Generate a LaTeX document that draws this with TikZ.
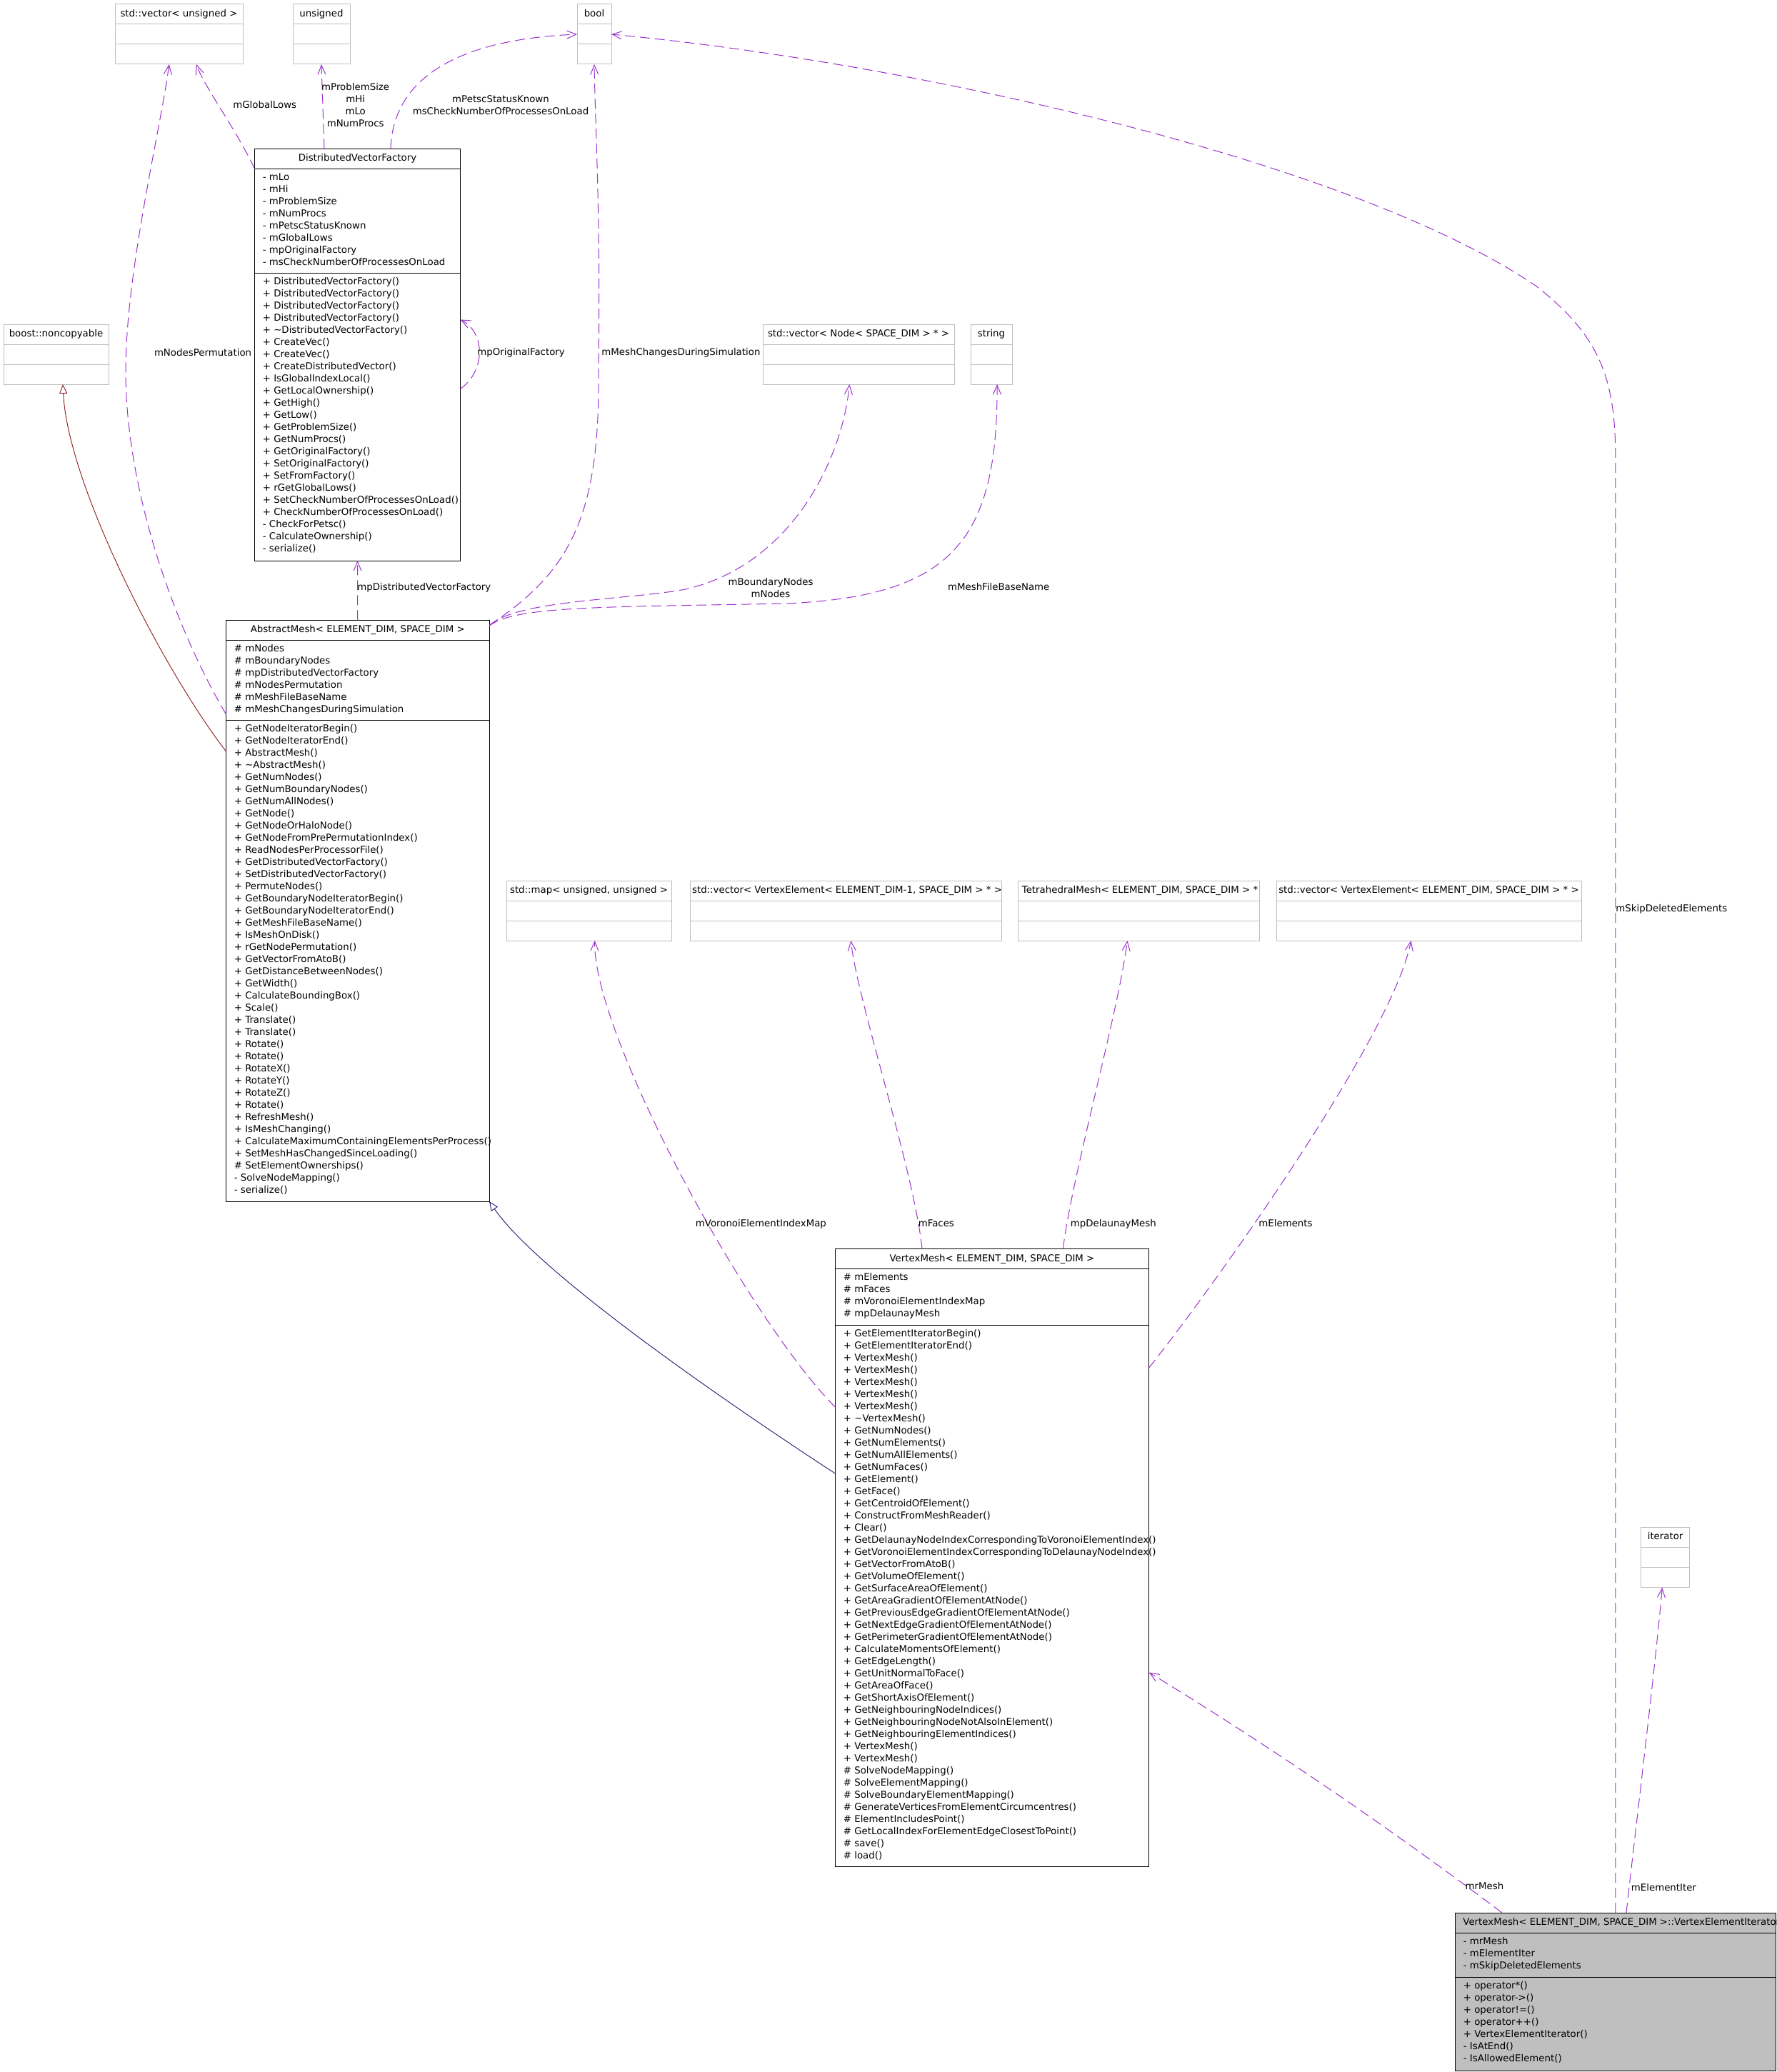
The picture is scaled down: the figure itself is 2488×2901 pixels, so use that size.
\documentclass[tikz,border=0pt]{standalone}
\usepackage{fontspec}
\setmainfont{DejaVu Sans}
\usetikzlibrary{arrows.meta}
\definecolor{edgepurple}{HTML}{9A32CD}
\definecolor{inhblue}{HTML}{191970}
\definecolor{inhred}{HTML}{8B1A1A}
\definecolor{boxgray}{HTML}{BFBFBF}
\newcommand\fs{\fontsize{6.67pt}{8.5pt}\selectfont}
\newcommand\mystrut{\vrule height6pt depth2.5pt width0pt}
\newcommand\lblock[1]{\vbox{\offinterlineskip\halign{\mystrut##\hfil\cr#1\crcr}}}
\newcommand\cblock[1]{\vbox{\offinterlineskip\halign{\hfil\mystrut##\hfil\cr#1\crcr}}}
\newcommand\umlclass[6]{%
  \node[#6, minimum width={(#4-#2)*0.5pt}, minimum height={(#5-#3)*0.5pt}] (#1) at ({(#2+#4)/2},{(#3+#5)/2}) {};}
\newcommand\divider[4]{\draw[draw=#4, line width=0.5pt] (#1,#3) -- (#2,#3);}
\tikzset{
  cbox/.style={draw=black, line width=0.5pt, fill=white, inner sep=0pt, outer sep=0pt},
  gbox/.style={draw=boxgray, line width=0.5pt, fill=white, inner sep=0pt, outer sep=0pt},
  ibox/.style={draw=black, line width=0.5pt, fill=boxgray, inner sep=0pt, outer sep=0pt},
  usage/.style={draw=edgepurple, line width=0.5pt, dash pattern=on 7pt off 3.5pt,
    -{Straight Barb[length=6.5pt,width=5.5pt]}},
  inh/.style={line width=0.45pt, -{Triangle[open,length=6.5pt,width=5.5pt]}},
  lbl/.style={font=\fs, inner sep=0pt, text=black},
  txt/.style={font=\fs, inner sep=0pt, anchor=north west, text=black},
}
\begin{document}
\begin{tikzpicture}[x=0.5pt,y=-0.5pt]
\useasboundingbox (0,0) rectangle (2488,2901);
\fill[white] (0,0) rectangle (2488,2901);
\clip (0,0) rectangle (2488,2901);

% ---------- simple grey classes ----------
\umlclass{cvu}{161}{6}{340}{90}{gbox}
\divider{161}{340}{34}{boxgray}\divider{161}{340}{62}{boxgray}
\node[lbl] at (250.5,20) {\cblock{std::vector< unsigned >}};

\umlclass{uns}{410}{6}{490}{90}{gbox}
\divider{410}{490}{34}{boxgray}\divider{410}{490}{62}{boxgray}
\node[lbl] at (450,20) {\cblock{unsigned}};

\umlclass{bool}{808}{6}{856}{90}{gbox}
\divider{808}{856}{34}{boxgray}\divider{808}{856}{62}{boxgray}
\node[lbl] at (832,20) {\cblock{bool}};

\umlclass{nonc}{5}{454}{152}{538}{gbox}
\divider{5}{152}{482}{boxgray}\divider{5}{152}{510}{boxgray}
\node[lbl] at (78.5,468) {\cblock{boost::noncopyable}};

\umlclass{vnode}{1068}{454}{1336}{538}{gbox}
\divider{1068}{1336}{482}{boxgray}\divider{1068}{1336}{510}{boxgray}
\node[lbl] at (1202,468) {\cblock{std::vector< Node< SPACE\_DIM > * >}};

\umlclass{str}{1359}{454}{1417}{538}{gbox}
\divider{1359}{1417}{482}{boxgray}\divider{1359}{1417}{510}{boxgray}
\node[lbl] at (1388,468) {\cblock{string}};

\umlclass{map}{709}{1233}{940}{1317}{gbox}
\divider{709}{940}{1261}{boxgray}\divider{709}{940}{1289}{boxgray}
\node[lbl] at (824.5,1247) {\cblock{std::map< unsigned, unsigned >}};

\umlclass{vecm}{966}{1233}{1402}{1317}{gbox}
\divider{966}{1402}{1261}{boxgray}\divider{966}{1402}{1289}{boxgray}
\node[lbl] at (1186,1247) {\cblock{std::vector< VertexElement< ELEMENT\_DIM-1, SPACE\_DIM > * >}};

\umlclass{tet}{1425}{1233}{1763}{1317}{gbox}
\divider{1425}{1763}{1261}{boxgray}\divider{1425}{1763}{1289}{boxgray}
\node[lbl] at (1596,1247) {\cblock{TetrahedralMesh< ELEMENT\_DIM, SPACE\_DIM > *}};

\umlclass{vec}{1787}{1233}{2214}{1317}{gbox}
\divider{1787}{2214}{1261}{boxgray}\divider{1787}{2214}{1289}{boxgray}
\node[lbl] at (2000.5,1247) {\cblock{std::vector< VertexElement< ELEMENT\_DIM, SPACE\_DIM > * >}};

\umlclass{iter}{2297.5}{2138.3}{2365.8}{2222.6}{gbox}
\divider{2297.5}{2365.8}{2166.3}{boxgray}\divider{2297.5}{2365.8}{2194.5}{boxgray}
\node[lbl] at (2331.6,2152.3) {\cblock{iterator}};

% ---------- DistributedVectorFactory ----------
\umlclass{dvf}{356.5}{208.3}{644.5}{785}{cbox}
\divider{356.5}{644.5}{236.3}{black}\divider{356.5}{644.5}{382.7}{black}
\node[lbl] at (500.5,222.3) {\cblock{DistributedVectorFactory}};
\node[txt] at (367.5,240.1) {\lblock{- mLo\cr - mHi\cr - mProblemSize\cr - mNumProcs\cr - mPetscStatusKnown\cr - mGlobalLows\cr - mpOriginalFactory\cr - msCheckNumberOfProcessesOnLoad}};
\node[txt] at (367.5,386.5) {\lblock{+ DistributedVectorFactory()\cr + DistributedVectorFactory()\cr + DistributedVectorFactory()\cr + DistributedVectorFactory()\cr + \textasciitilde DistributedVectorFactory()\cr + CreateVec()\cr + CreateVec()\cr + CreateDistributedVector()\cr + IsGlobalIndexLocal()\cr + GetLocalOwnership()\cr + GetHigh()\cr + GetLow()\cr + GetProblemSize()\cr + GetNumProcs()\cr + GetOriginalFactory()\cr + SetOriginalFactory()\cr + SetFromFactory()\cr + rGetGlobalLows()\cr + SetCheckNumberOfProcessesOnLoad()\cr + CheckNumberOfProcessesOnLoad()\cr - CheckForPetsc()\cr - CalculateOwnership()\cr - serialize()}};

% ---------- AbstractMesh ----------
\umlclass{am}{316.5}{868.3}{685}{1682.1}{cbox}
\divider{316.5}{685}{896.3}{black}\divider{316.5}{685}{1008.7}{black}
\node[lbl] at (500.75,882.3) {\cblock{AbstractMesh< ELEMENT\_DIM, SPACE\_DIM >}};
\node[txt] at (327.5,900.1) {\lblock{\# mNodes\cr \# mBoundaryNodes\cr \# mpDistributedVectorFactory\cr \# mNodesPermutation\cr \# mMeshFileBaseName\cr \# mMeshChangesDuringSimulation}};
\node[txt] at (327.5,1012.5) {\lblock{+ GetNodeIteratorBegin()\cr + GetNodeIteratorEnd()\cr + AbstractMesh()\cr + \textasciitilde AbstractMesh()\cr + GetNumNodes()\cr + GetNumBoundaryNodes()\cr + GetNumAllNodes()\cr + GetNode()\cr + GetNodeOrHaloNode()\cr + GetNodeFromPrePermutationIndex()\cr + ReadNodesPerProcessorFile()\cr + GetDistributedVectorFactory()\cr + SetDistributedVectorFactory()\cr + PermuteNodes()\cr + GetBoundaryNodeIteratorBegin()\cr + GetBoundaryNodeIteratorEnd()\cr + GetMeshFileBaseName()\cr + IsMeshOnDisk()\cr + rGetNodePermutation()\cr + GetVectorFromAtoB()\cr + GetDistanceBetweenNodes()\cr + GetWidth()\cr + CalculateBoundingBox()\cr + Scale()\cr + Translate()\cr + Translate()\cr + Rotate()\cr + Rotate()\cr + RotateX()\cr + RotateY()\cr + RotateZ()\cr + Rotate()\cr + RefreshMesh()\cr + IsMeshChanging()\cr + CalculateMaximumContainingElementsPerProcess()\cr + SetMeshHasChangedSinceLoading()\cr \# SetElementOwnerships()\cr - SolveNodeMapping()\cr - serialize()}};

% ---------- VertexMesh ----------
\umlclass{vm}{1169.3}{1748.6}{1608.7}{2613.4}{cbox}
\divider{1169.3}{1608.7}{1776.6}{black}\divider{1169.3}{1608.7}{1855}{black}
\node[lbl] at (1389,1762.6) {\cblock{VertexMesh< ELEMENT\_DIM, SPACE\_DIM >}};
\node[txt] at (1180.5,1780.4) {\lblock{\# mElements\cr \# mFaces\cr \# mVoronoiElementIndexMap\cr \# mpDelaunayMesh}};
\node[txt] at (1180.5,1858.8) {\lblock{+ GetElementIteratorBegin()\cr + GetElementIteratorEnd()\cr + VertexMesh()\cr + VertexMesh()\cr + VertexMesh()\cr + VertexMesh()\cr + VertexMesh()\cr + \textasciitilde VertexMesh()\cr + GetNumNodes()\cr + GetNumElements()\cr + GetNumAllElements()\cr + GetNumFaces()\cr + GetElement()\cr + GetFace()\cr + GetCentroidOfElement()\cr + ConstructFromMeshReader()\cr + Clear()\cr + GetDelaunayNodeIndexCorrespondingToVoronoiElementIndex()\cr + GetVoronoiElementIndexCorrespondingToDelaunayNodeIndex()\cr + GetVectorFromAtoB()\cr + GetVolumeOfElement()\cr + GetSurfaceAreaOfElement()\cr + GetAreaGradientOfElementAtNode()\cr + GetPreviousEdgeGradientOfElementAtNode()\cr + GetNextEdgeGradientOfElementAtNode()\cr + GetPerimeterGradientOfElementAtNode()\cr + CalculateMomentsOfElement()\cr + GetEdgeLength()\cr + GetUnitNormalToFace()\cr + GetAreaOfFace()\cr + GetShortAxisOfElement()\cr + GetNeighbouringNodeIndices()\cr + GetNeighbouringNodeNotAlsoInElement()\cr + GetNeighbouringElementIndices()\cr + VertexMesh()\cr + VertexMesh()\cr \# SolveNodeMapping()\cr \# SolveElementMapping()\cr \# SolveBoundaryElementMapping()\cr \# GenerateVerticesFromElementCircumcentres()\cr \# ElementIncludesPoint()\cr \# GetLocalIndexForElementEdgeClosestToPoint()\cr \# save()\cr \# load()}};

% ---------- VertexElementIterator ----------
\umlclass{vei}{2037.6}{2678}{2486}{2899.5}{ibox}
\divider{2037.6}{2486}{2706.5}{black}\divider{2037.6}{2486}{2768}{black}
\node[lbl, anchor=west] at (2048,2692.2) {\lblock{VertexMesh< ELEMENT\_DIM, SPACE\_DIM >::VertexElementIterator}};
\node[txt] at (2048.5,2710.3) {\lblock{- mrMesh\cr - mElementIter\cr - mSkipDeletedElements}};
\node[txt] at (2048.5,2771.8) {\lblock{+ operator*()\cr + operator->()\cr + operator!=()\cr + operator++()\cr + VertexElementIterator()\cr - IsAtEnd()\cr - IsAllowedElement()}};

% ---------- connectors ----------
\draw[usage] ([yshift=-14pt]dvf.north west) .. controls (330,180) and (285,120) .. ([xshift=12.25pt]cvu.south);
\node[lbl, anchor=west] at (326,147.7) {\lblock{mGlobalLows}};

\draw[usage] ([yshift=-65.85pt]am.north west) .. controls (240,870) and (176,680) .. (176,520) .. controls (176,380) and (225,180) .. ([xshift=-6.85pt]cvu.south);
\node[lbl, anchor=west] at (215.6,495) {\lblock{mNodesPermutation}};

\draw[inh, draw=inhred] ([yshift=-91.85pt]am.north west) .. controls (230,940) and (95,680) .. ([xshift=4.75pt]nonc.south);

\draw[usage] ([xshift=-23.25pt]dvf.north) -- (uns.south);
\node[lbl] at (497.7,148.2) {\cblock{mProblemSize\cr mHi\cr mLo\cr mNumProcs}};

\draw[usage] ([xshift=23.25pt]dvf.north) .. controls (550,110) and (640,55) .. (bool.west);
\node[lbl] at (701,148.3) {\cblock{mPetscStatusKnown\cr msCheckNumberOfProcessesOnLoad}};

\draw[usage] ([yshift=-3.5pt]am.north east) .. controls (800,800) and (840,720) .. (838,520) .. controls (841,300) and (834,200) .. (bool.south);
\node[lbl, anchor=west] at (842,494.3) {\lblock{mMeshChangesDuringSimulation}};

\draw[usage] ([yshift=-168pt]dvf.north east) .. controls (680,520) and (680,465) .. ([yshift=-119.6pt]dvf.north east);
\node[lbl, anchor=west] at (668,494.3) {\lblock{mpOriginalFactory}};

\draw[usage] (am.north) -- (dvf.south);
\node[lbl, anchor=west] at (500,823.3) {\lblock{mpDistributedVectorFactory}};

\draw[usage] ([yshift=-4pt]am.north east) .. controls (720,840) and (880,840) .. (960,825) .. controls (1110,790) and (1180,640) .. ([xshift=-6.35pt]vnode.south);
\node[lbl] at (1079,824.2) {\cblock{mBoundaryNodes\cr mNodes}};

\draw[usage] ([yshift=-4pt]am.north east) .. controls (720,848) and (850,850) .. (1100,845) .. controls (1330,835) and (1397,760) .. ([xshift=4pt]str.south);
\node[lbl, anchor=west] at (1326.7,823.3) {\lblock{mMeshFileBaseName}};

\draw[usage] (vei.north) -- (2261.8,640) .. controls (2261.8,530) and (2240,470) .. (2150,400) .. controls (1900,230) and (1300,90) .. (bool.east);
\node[lbl, anchor=west] at (2262,1272.6) {\lblock{mSkipDeletedElements}};

\draw[usage] ([yshift=-110.7pt]vm.north west) .. controls (1050,1850) and (830,1450) .. ([xshift=4.1pt]map.south);
\node[lbl, anchor=west] at (973.5,1714) {\lblock{mVoronoiElementIndexMap}};

\draw[usage] ([xshift=-49pt]vm.north) .. controls (1280,1640) and (1200,1400) .. ([xshift=3.65pt]vecm.south);
\node[lbl, anchor=west] at (1285.4,1714) {\lblock{mFaces}};

\draw[usage] ([xshift=49.7pt]vm.north) .. controls (1500,1650) and (1565,1420) .. ([xshift=-7.75pt]tet.south);
\node[lbl, anchor=west] at (1498.4,1714) {\lblock{mpDelaunayMesh}};

\draw[usage] ([yshift=-83.2pt]vm.north east) .. controls (1700,1800) and (1950,1450) .. ([xshift=-12.45pt]vec.south);
\node[lbl, anchor=west] at (1762,1714) {\lblock{mElements}};

\draw[inh, draw=inhblue] ([yshift=-157.2pt]vm.north west) .. controls (1050,1985) and (760,1790) .. (am.south east);

\draw[usage] ([xshift=-79.4pt]vei.north) .. controls (1940,2555) and (1770,2440) .. ([yshift=-296.5pt]vm.north east);
\node[lbl, anchor=west] at (2051.3,2641.7) {\lblock{mrMesh}};

\draw[usage] ([xshift=7.6pt]vei.north) .. controls (2290,2560) and (2318,2330) .. ([xshift=-2.2pt]iter.south);
\node[lbl, anchor=west] at (2283.5,2644) {\lblock{mElementIter}};
\end{tikzpicture}
\end{document}
